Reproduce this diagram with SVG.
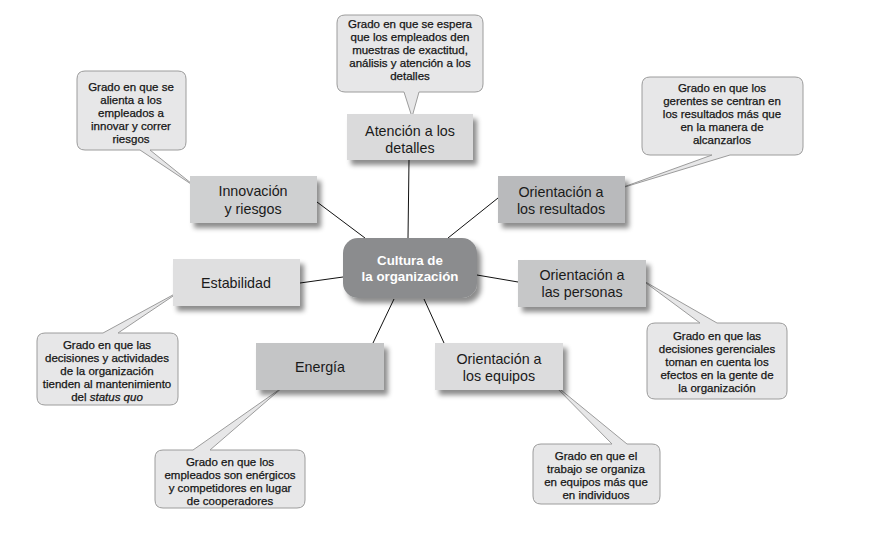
<svg xmlns="http://www.w3.org/2000/svg" width="879" height="547" viewBox="0 0 879 547">
<style>
.cl{fill:#e7e7e8;stroke:#9c9c9c;stroke-width:1}
.ct{font-family:"Liberation Sans",Arial,sans-serif;font-size:11.5px;fill:#151515;stroke:#151515;stroke-width:0.25;text-anchor:middle}
.nd{stroke:none}
.nt{font-family:"Liberation Sans",Arial,sans-serif;font-size:14.3px;fill:#1a1a1a;text-anchor:middle}
.ctr{font-family:"Liberation Sans",Arial,sans-serif;font-size:13.3px;font-weight:bold;fill:#ffffff;text-anchor:middle}
.cn{stroke:#111;stroke-width:1;fill:none}
</style>
<defs>
<filter id="sh" x="-10%" y="-10%" width="130%" height="140%">
<feDropShadow dx="4" dy="5" stdDeviation="2.5" flood-color="#000" flood-opacity="0.45"/>
</filter>
</defs>
<rect width="879" height="547" fill="#ffffff"/>

<g id="connectors">
<line class="cn" x1="409" y1="160" x2="408" y2="238"/>
<line class="cn" x1="317" y1="202" x2="365" y2="238"/>
<line class="cn" x1="498" y1="198" x2="448" y2="238"/>
<line class="cn" x1="300" y1="283" x2="343" y2="277"/>
<line class="cn" x1="477" y1="275" x2="518" y2="282"/>
<line class="cn" x1="394" y1="299" x2="373" y2="343"/>
<line class="cn" x1="424" y1="299" x2="444" y2="343"/>
</g>

<g id="callout-detalles">
<path class="cl" d="M345,15 H475 Q483,15 483,23 V84 Q483,92 475,92 H419 L412,117 L404,92 H345 Q337,92 337,84 V23 Q337,15 345,15 Z"/>
<text class="ct"><tspan x="410" y="28">Grado en que se espera</tspan><tspan x="410" y="41">que los empleados den</tspan><tspan x="410" y="54">muestras de exactitud,</tspan><tspan x="410" y="67">análisis y atención a los</tspan><tspan x="410" y="80">detalles</tspan></text>
</g>

<g id="callout-innovacion">
<path class="cl" d="M85,71 H178 Q186,71 186,79 V142 Q186,150 178,150 H150 L197,188 L140,150 H85 Q77,150 77,142 V79 Q77,71 85,71 Z"/>
<text class="ct"><tspan x="131" y="91">Grado en que se</tspan><tspan x="131" y="104">alienta a los</tspan><tspan x="131" y="117">empleados a</tspan><tspan x="131" y="130">innovar y correr</tspan><tspan x="131" y="143">riesgos</tspan></text>
</g>

<g id="callout-resultados">
<path class="cl" d="M650,77 H795 Q803,77 803,85 V147 Q803,155 795,155 H730 L618,189 L712,155 H650 Q642,155 642,147 V85 Q642,77 650,77 Z"/>
<text class="ct"><tspan x="722" y="92">Grado en que los</tspan><tspan x="722" y="105">gerentes se centran en</tspan><tspan x="722" y="118">los resultados más que</tspan><tspan x="722" y="131">en la manera de</tspan><tspan x="722" y="144">alcanzarlos</tspan></text>
</g>

<g id="callout-estabilidad">
<path class="cl" d="M45,333 H103 L182,290 L118,333 H170 Q178,333 178,341 V397 Q178,405 170,405 H45 Q37,405 37,397 V341 Q37,333 45,333 Z"/>
<text class="ct"><tspan x="107" y="349">Grado en que las</tspan><tspan x="107" y="362">decisiones y actividades</tspan><tspan x="107" y="375">de la organización</tspan><tspan x="107" y="388">tienden al mantenimiento</tspan><tspan x="107" y="401">del <tspan font-style="italic">status quo</tspan></tspan></text>
</g>

<g id="callout-personas">
<path class="cl" d="M655,323 H700 L642,280 L717,323 H779 Q787,323 787,331 V391 Q787,399 779,399 H655 Q647,399 647,391 V331 Q647,323 655,323 Z"/>
<text class="ct"><tspan x="717" y="340">Grado en que las</tspan><tspan x="717" y="353">decisiones gerenciales</tspan><tspan x="717" y="366">toman en cuenta los</tspan><tspan x="717" y="379">efectos en la gente de</tspan><tspan x="717" y="392">la organización</tspan></text>
</g>

<g id="callout-energia">
<path class="cl" d="M163,450 H193 L283,387 L210,450 H297 Q305,450 305,458 V500 Q305,508 297,508 H163 Q155,508 155,500 V458 Q155,450 163,450 Z"/>
<text class="ct"><tspan x="230" y="466">Grado en que los</tspan><tspan x="230" y="479">empleados son enérgicos</tspan><tspan x="230" y="492">y competidores en lugar</tspan><tspan x="230" y="505">de cooperadores</tspan></text>
</g>

<g id="callout-equipos">
<path class="cl" d="M541,444 H612 L550,381 L627,444 H652 Q660,444 660,452 V496 Q660,504 652,504 H541 Q533,504 533,496 V452 Q533,444 541,444 Z"/>
<text class="ct"><tspan x="596" y="460">Grado en que el</tspan><tspan x="596" y="473">trabajo se organiza</tspan><tspan x="596" y="486">en equipos más que</tspan><tspan x="596" y="499">en individuos</tspan></text>
</g>

<g id="node-detalles">
<rect class="nd" x="347" y="114" width="126" height="46" fill="#dadadb" filter="url(#sh)"/>
<text class="nt"><tspan x="410" y="136">Atención a los</tspan><tspan x="410" y="153">detalles</tspan></text>
</g>
<g id="node-innovacion">
<rect class="nd" x="190" y="176" width="127" height="47" fill="#cfd0d1" filter="url(#sh)"/>
<text class="nt"><tspan x="253" y="196">Innovación</tspan><tspan x="253" y="214">y riesgos</tspan></text>
</g>
<g id="node-resultados">
<rect class="nd" x="498" y="176" width="127" height="47" fill="#b9babc" filter="url(#sh)"/>
<text class="nt"><tspan x="561" y="197">Orientación a</tspan><tspan x="561" y="214">los resultados</tspan></text>
</g>
<g id="node-estabilidad">
<rect class="nd" x="173" y="259" width="127" height="47" fill="#dfdfe0" filter="url(#sh)"/>
<text class="nt"><tspan x="236" y="288">Estabilidad</tspan></text>
</g>
<g id="node-personas">
<rect class="nd" x="518" y="260" width="128" height="47" fill="#c6c7c8" filter="url(#sh)"/>
<text class="nt"><tspan x="582" y="280">Orientación a</tspan><tspan x="582" y="297">las personas</tspan></text>
</g>
<g id="node-energia">
<rect class="nd" x="256" y="343" width="128" height="47" fill="#c4c5c6" filter="url(#sh)"/>
<text class="nt"><tspan x="320" y="372">Energía</tspan></text>
</g>
<g id="node-equipos">
<rect class="nd" x="435" y="343" width="128" height="47" fill="#dcdcdd" filter="url(#sh)"/>
<text class="nt"><tspan x="499" y="364">Orientación a</tspan><tspan x="499" y="381">los equipos</tspan></text>
</g>
<g id="node-cultura">
<rect class="nd" x="343" y="238" width="134" height="60" rx="15" ry="15" fill="#8b8c8e" filter="url(#sh)"/>
<text class="ctr"><tspan x="410" y="265">Cultura de</tspan><tspan x="410" y="281">la organización</tspan></text>
</g>
</svg>
